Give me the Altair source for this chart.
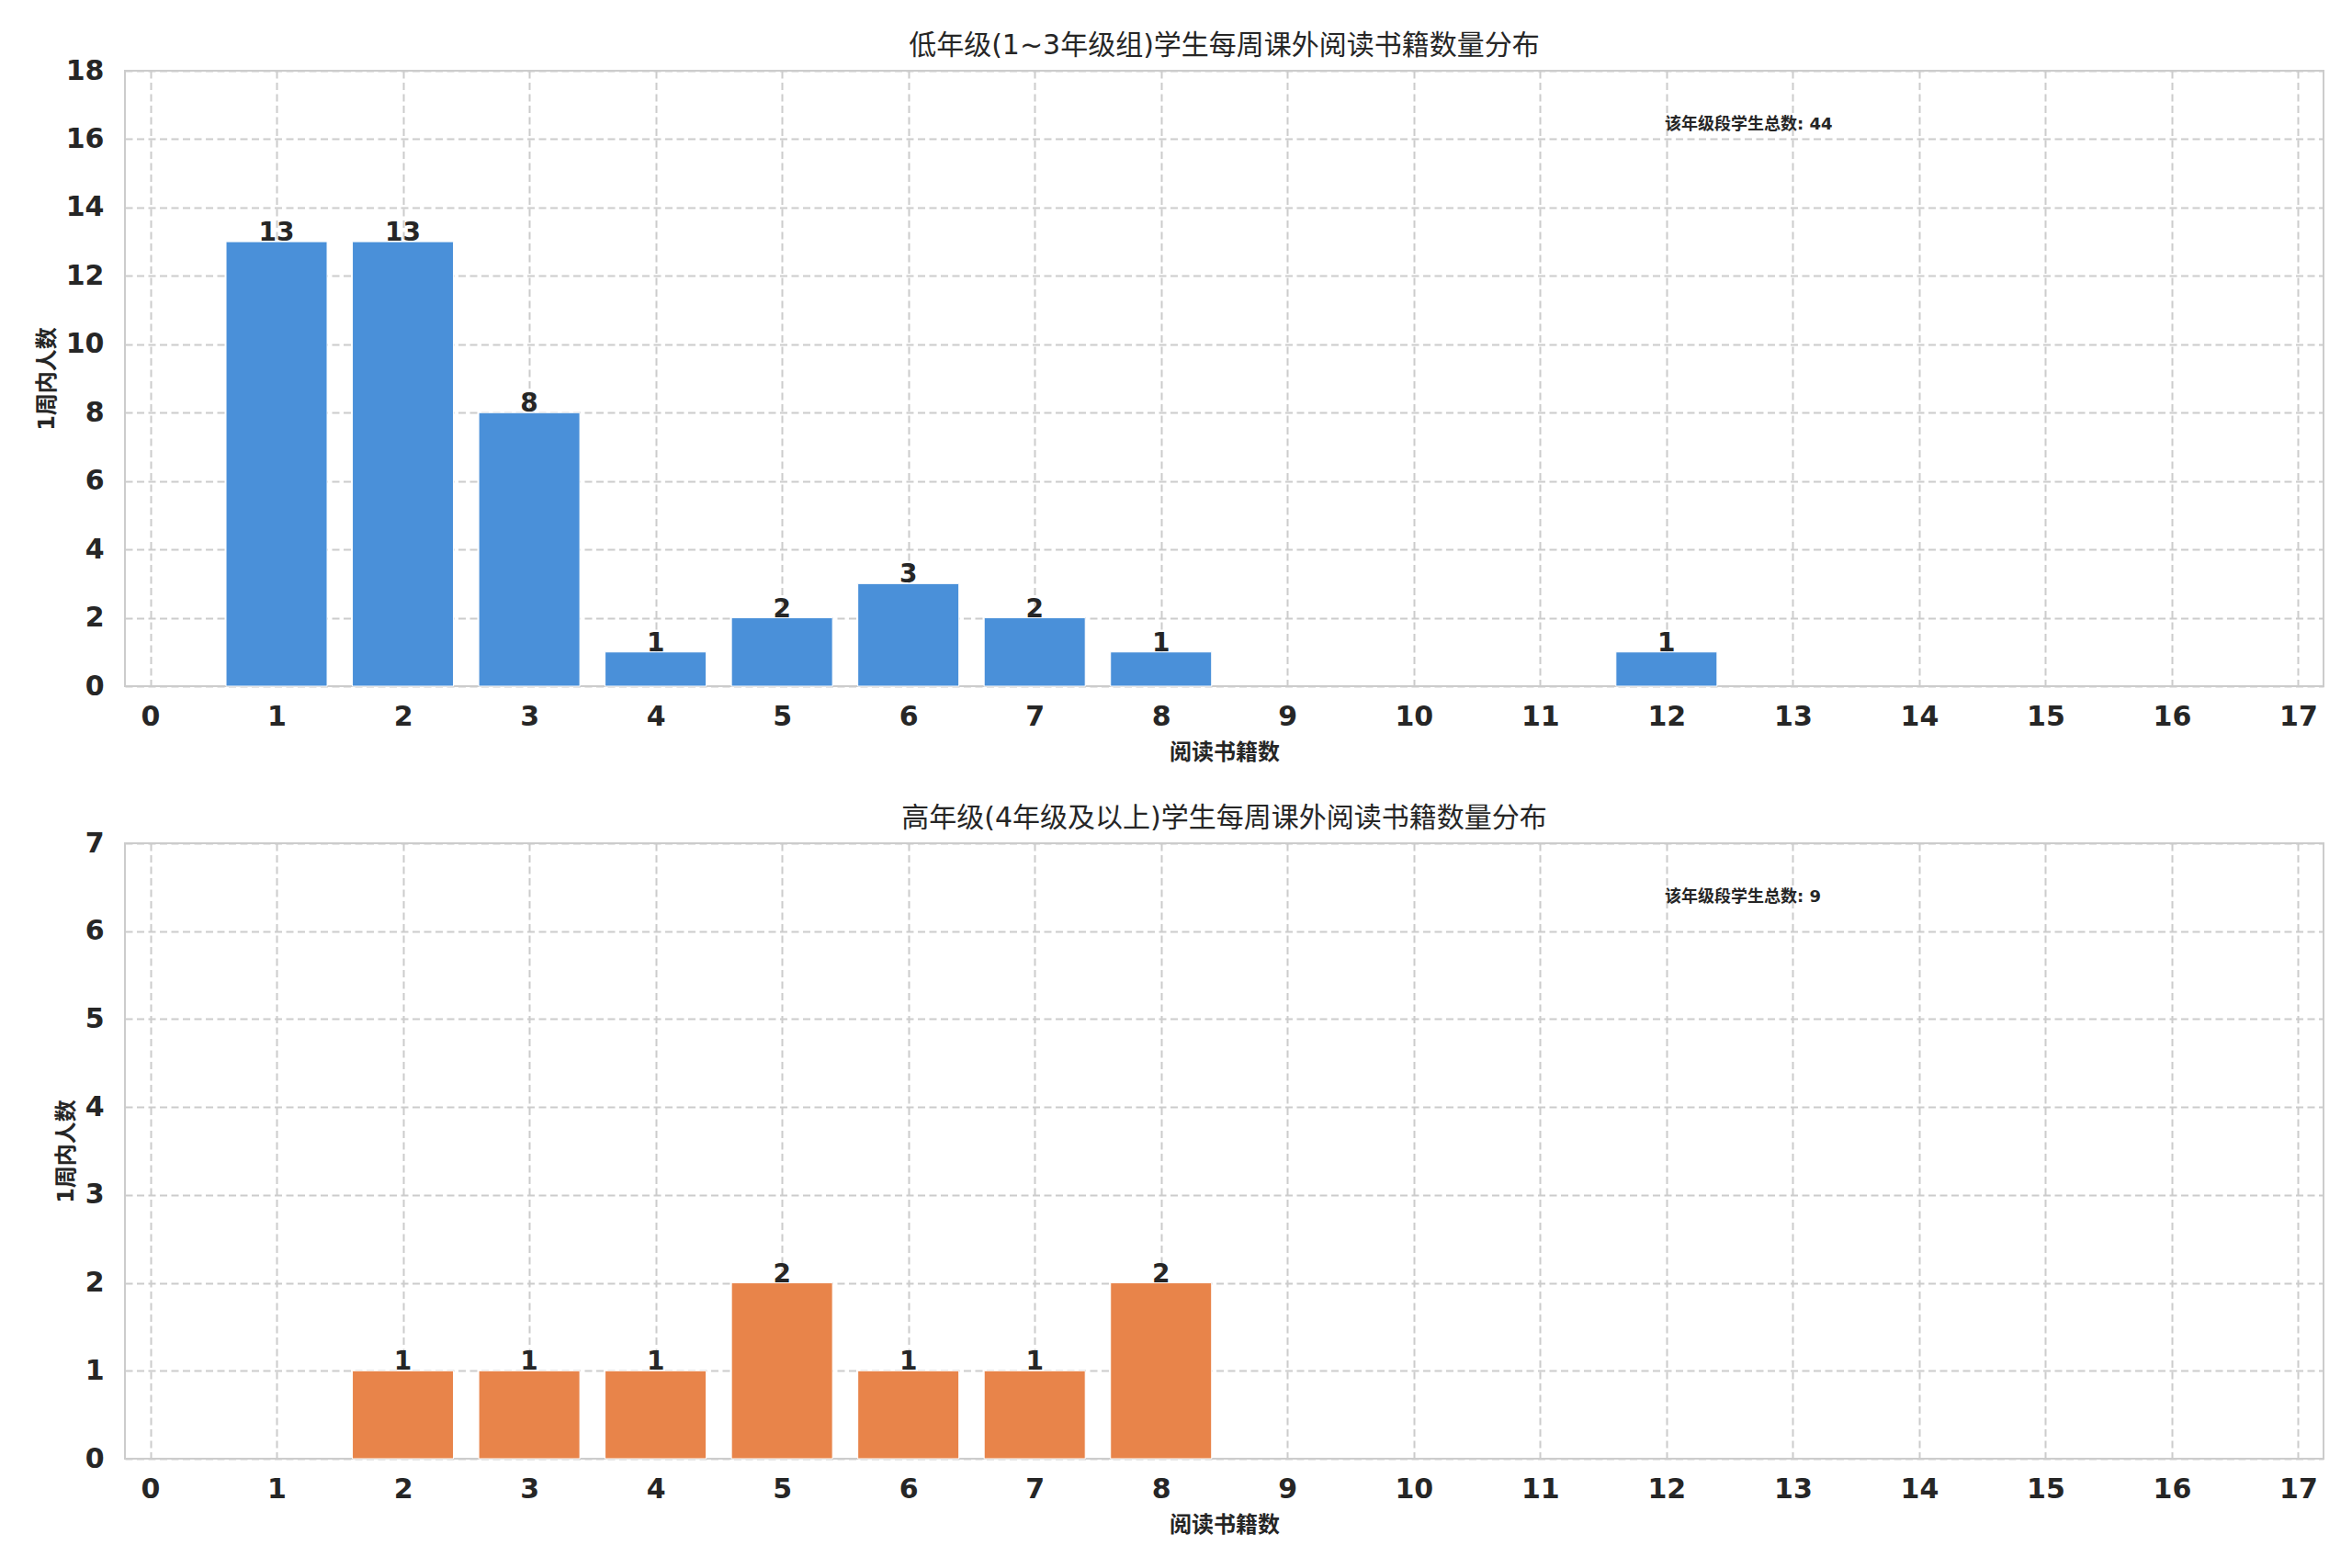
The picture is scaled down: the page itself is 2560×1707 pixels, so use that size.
import altair as alt
import pandas as pd

# ---- data ----
x_ticks = list(range(0, 18))
g1_x = [1, 2, 3, 4, 5, 6, 7, 8, 12]
g1_y = [13, 13, 8, 1, 2, 3, 2, 1, 1]
g2_x = [2, 3, 4, 5, 6, 7, 8]
g2_y = [1, 1, 1, 2, 1, 1, 2]

title1 = "低年级(1~3年级组)学生每周课外阅读书籍数量分布"
title2 = "高年级(4年级及以上)学生每周课外阅读书籍数量分布"
x_label = "阅读书籍数"
y_label = "1周内人数"
total_label = "该年级段学生总数"

FONT = "DejaVu Sans, Noto Sans CJK SC"
TXT = "#262626"
W, H = 2393, 670


def panel(xs, ys, color, title, ymax, ystep):
    df = pd.DataFrame({"v": xs, "n": ys})
    base = alt.Chart(df).transform_calculate(
        left="datum.v - 0.4", right="datum.v + 0.4"
    )
    xscale = alt.Scale(domain=[-0.2, 17.2], nice=False, zero=False)
    yscale = alt.Scale(domain=[0, ymax], nice=False)
    bars = base.mark_rect(color=color, stroke="white", strokeWidth=1).encode(
        x=alt.X("left:Q", scale=xscale,
                axis=alt.Axis(values=x_ticks, title=x_label, format="d")),
        x2="right:Q",
        y=alt.Y("n:Q", scale=yscale,
                axis=alt.Axis(values=list(range(0, ymax + 1, ystep)),
                              title=y_label, format="d")),
        y2=alt.datum(0),
    )
    labels = base.mark_text(
        baseline="alphabetic", dy=-1, fontSize=28, fontWeight="bold",
        color=TXT, font=FONT
    ).encode(x="v:Q", y="n:Q", text="n:Q")
    tot = pd.DataFrame({"t": [f"{total_label}: {sum(ys)}"]})
    note = alt.Chart(tot).mark_text(
        align="left", baseline="middle", fontSize=18, fontWeight="bold",
        color=TXT, font=FONT
    ).encode(x=alt.value(1676), y=alt.value(59), text="t:N")
    return alt.layer(bars, labels, note).properties(
        width=W, height=H,
        title=alt.TitleParams(title, fontSize=30, font=FONT, fontWeight="normal",
                              color=TXT, offset=-3, anchor="middle"),
    )


p1 = panel(g1_x, g1_y, "#4A90D9", title1, 18, 2)
p2 = panel(g2_x, g2_y, "#E8844A", title2, 7, 1)

chart = alt.vconcat(p1, p2, spacing=43).properties(
    padding={"top": 26, "left": 30, "right": 5, "bottom": 5}
).configure_view(
    stroke="#cccccc", strokeWidth=2
).configure_axis(
    domain=False, ticks=False, tickSize=0,
    grid=True, gridColor="#cccccc", gridDash=[8, 4.5], gridWidth=2,
    labelFont=FONT, labelFontSize=30, labelFontWeight="bold", labelColor=TXT,
    titleFont=FONT, titleFontSize=24, titleFontWeight="bold", titleColor=TXT,
).configure_axisX(
    labelPadding=18, titlePadding=12
).configure_axisY(
    labelPadding=23, titlePadding=8
)

chart.save("out.html", embed_options={"renderer": "svg", "actions": False})
